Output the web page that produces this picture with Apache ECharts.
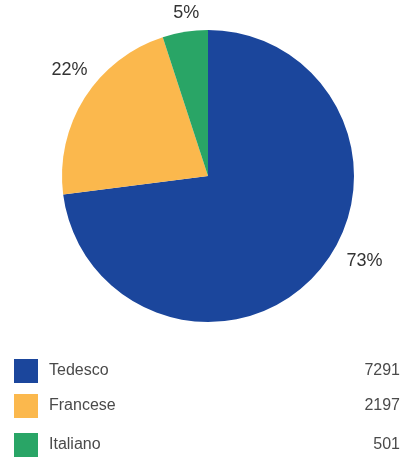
<!DOCTYPE html>
<html><head><meta charset="utf-8">
<script src="https://cdn.jsdelivr.net/npm/echarts@6/dist/echarts.min.js"></script>
<style>html,body{margin:0;padding:0;background:#fff}#c{width:402px;height:459px}</style>
</head><body><div id="c"></div>
<script>
const categories = ['Tedesco', 'Francese', 'Italiano'];
const values = [7291, 2197, 501];
const colors = ['#1B469C', '#FBB84D', '#29A566'];

const chart = echarts.init(document.getElementById('c'), null, {renderer: 'canvas'});
const total = values.reduce((a, b) => a + b, 0);
const labelOffsets = [[15, -19], [18, -21], [21, -7]];
const legendTops = [359, 394, 433];
const data = categories.map((n, i) => ({
  name: n, value: values[i],
  itemStyle: {color: colors[i]},
  label: {offset: labelOffsets[i]}
}));

const legends = categories.map((name, i) => ({
  orient: 'vertical',
  left: 14,
  top: legendTops[i],
  padding: 0,
  itemWidth: 24,
  itemHeight: 24,
  itemGap: 10,
  icon: 'rect',
  selectedMode: false,
  data: [name],
  formatter: function (nm) {
    const k = categories.indexOf(nm);
    return '{n|' + nm + '}{v|' + values[k] + '}';
  },
  textStyle: {
    rich: {
      n: {width: 299, align: 'left', padding: [0, 0, 0, 6], fontSize: 16, color: '#4a4a4a', fontFamily: 'Liberation Sans'},
      v: {width: 52, align: 'right', fontSize: 16, color: '#4a4a4a', fontFamily: 'Liberation Sans'}
    }
  }
}));

chart.setOption({
  animation: false,
  legend: legends,
  series: [{
    type: 'pie',
    center: [208, 176],
    radius: [0, 146],
    startAngle: 90,
    clockwise: true,
    data: data,
    label: {
      show: true,
      position: 'outside',
      fontSize: 18,
      color: '#333',
      fontFamily: 'Liberation Sans',
      formatter: function (p) { return Math.round(p.value / total * 100) + '%'; }
    },
    labelLine: {show: false, length: 12, length2: 0},
    emphasis: {disabled: true}
  }]
});
</script></body></html>
